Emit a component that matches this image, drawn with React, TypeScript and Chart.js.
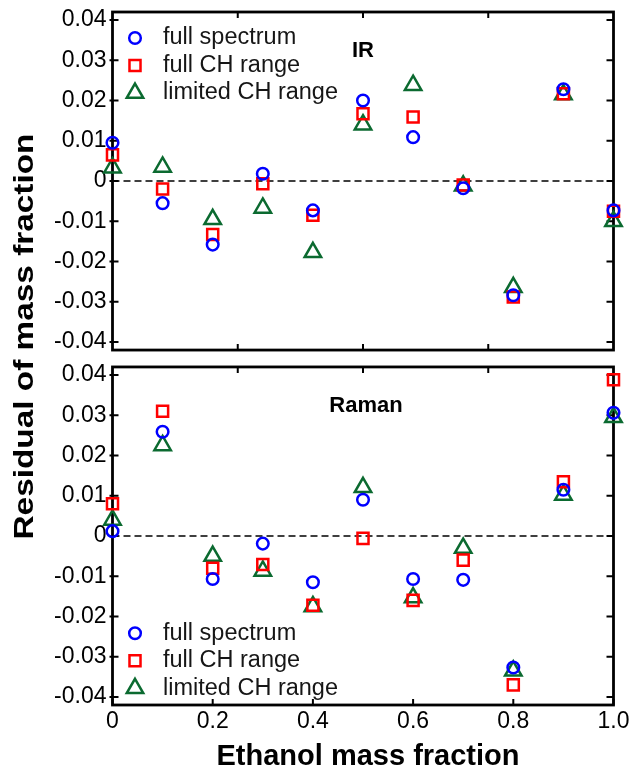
import React, { useEffect, useRef } from 'react';
import { Chart, registerables } from 'chart.js';
import { drawPoint } from 'chart.js/helpers';

Chart.register(...registerables);

const FONT = '"Liberation Sans", Arial, Helvetica, sans-serif';

// ---------------- data ----------------
const massFractions = [0, 0.1, 0.2, 0.3, 0.4, 0.5, 0.6, 0.7, 0.8, 0.9, 1.0];
const seriesNames = ['full spectrum', 'full CH range', 'limited CH range'];
const panelNames = ['IR', 'Raman'];

const irFullSpectrum = [0.0095, -0.0055, -0.0158, 0.0018, -0.0073, 0.020, 0.0109, -0.0018, -0.0284, 0.0228, -0.0073];
const irFullCH = [0.0065, -0.002, -0.0133, -0.0007, -0.0085, 0.0167, 0.0159, -0.001, -0.0288, 0.0217, -0.0075];
const irLimitedCH = [0.0033, 0.0035, -0.0095, -0.0067, -0.0177, 0.014, 0.0238, -0.0012, -0.0264, 0.0215, -0.010];

const ramanFullSpectrum = [0.0012, 0.0259, -0.0107, -0.0019, -0.0115, 0.009, -0.0107, -0.0109, -0.0327, 0.0115, 0.0306];
const ramanFullCH = [0.008, 0.031, -0.008, -0.0071, -0.0172, -0.0006, -0.016, -0.006, -0.037, 0.0135, 0.0388];
const ramanLimitedCH = [0.004, 0.0225, -0.005, -0.0087, -0.0175, 0.0121, -0.0153, -0.003, -0.0335, 0.0102, 0.0295];

const yTickValues = [-0.04, -0.03, -0.02, -0.01, 0, 0.01, 0.02, 0.03, 0.04];
const xTickValues = [0, 0.2, 0.4, 0.6, 0.8, 1.0];
const xInnerTickValues = [0.25, 0.5, 0.75];
const yAxisTitle = 'Residual of mass fraction';
const xAxisTitle = 'Ethanol mass fraction';

// ---------------- styles ----------------
const seriesStyles = [
  { pointStyle: 'circle', color: '#0000ff', radius: 5.8 },
  { pointStyle: 'rect', color: '#ff0000', radius: 7.8 },
  { pointStyle: 'triangle', color: '#0b6a30', radius: 9.5 },
];
const MARKER_LW = 2.5;

const panelAxisIds = ['yIR', 'yRaman'];
const panelSeries = [
  [irFullSpectrum, irFullCH, irLimitedCH],
  [ramanFullSpectrum, ramanFullCH, ramanLimitedCH],
];

function fmtY(v: number) {
  return Math.abs(v) < 1e-9 ? '0' : Number(v).toFixed(2);
}
function fmtX(v: number) {
  return Math.abs(v) < 1e-9 ? '0' : Number(v).toFixed(1);
}

const framesPlugin = {
  id: 'framesPlugin',
  beforeDatasetsDraw(chart: any) {
    const ctx = chart.ctx;
    const xs = chart.scales.x;
    const L = xs.left;
    const R = xs.right;
    ctx.save();
    panelAxisIds.forEach((id, p) => {
      const ys = chart.scales[id];
      const T = ys.top;
      const B = ys.bottom;
      // dashed zero line
      const y0 = ys.getPixelForValue(0);
      ctx.save();
      ctx.strokeStyle = '#000';
      ctx.lineWidth = 1.4;
      ctx.setLineDash([7, 4]);
      ctx.beginPath();
      ctx.moveTo(L, y0);
      ctx.lineTo(R, y0);
      ctx.stroke();
      ctx.restore();

      // ticks
      ctx.strokeStyle = '#000';
      ctx.lineWidth = 2;
      ctx.beginPath();
      yTickValues.forEach((v) => {
        const py = ys.getPixelForValue(v);
        ctx.moveTo(L - 3, py);
        ctx.lineTo(L + 6, py);
        ctx.moveTo(R - 7, py);
        ctx.lineTo(R, py);
      });
      xInnerTickValues.forEach((v) => {
        const px = xs.getPixelForValue(v);
        ctx.moveTo(px, T);
        ctx.lineTo(px, T + 6);
      });
      const bottomTicks = p === panelAxisIds.length - 1 ? xTickValues : xInnerTickValues;
      bottomTicks.forEach((v) => {
        const px = xs.getPixelForValue(v);
        ctx.moveTo(px, B);
        ctx.lineTo(px, B - 6);
      });
      ctx.stroke();

      // frame
      ctx.lineWidth = 2.8;
      ctx.strokeRect(L, T, R - L, B - T);
    });
    ctx.restore();
  },
  afterDatasetsDraw(chart: any) {
    const ctx = chart.ctx;
    const xs = chart.scales.x;
    const L = xs.left;
    ctx.save();
    panelAxisIds.forEach((id, p) => {
      const ys = chart.scales[id];
      const T = ys.top;
      const B = ys.bottom;
      // legend
      const rows = p === 0 ? [T + 26, T + 53.5, T + 81] : [B - 71.7, B - 44.2, B - 16.7];
      seriesNames.forEach((name, s) => {
        const st = seriesStyles[s];
        ctx.save();
        ctx.strokeStyle = st.color;
        ctx.fillStyle = 'rgba(0,0,0,0)';
        ctx.lineWidth = MARKER_LW;
        drawPoint(ctx, { pointStyle: st.pointStyle, radius: st.radius, borderWidth: MARKER_LW, rotation: 0 }, L + 22.5, rows[s]);
        ctx.restore();
        ctx.fillStyle = '#161616';
        ctx.font = `23.5px ${FONT}`;
        ctx.textAlign = 'left';
        ctx.textBaseline = 'middle';
        ctx.fillText(name, L + 50.5, rows[s]);
      });
      // panel label
      ctx.fillStyle = '#000';
      ctx.font = `bold 22px ${FONT}`;
      ctx.textAlign = 'center';
      ctx.textBaseline = 'middle';
      const lx = xs.getPixelForValue(0.5) + (p === 0 ? 0 : 3);
      ctx.fillText(panelNames[p], lx, T + (p === 0 ? 38.5 : 39));
    });

    // y axis title (spans both panels)
    const top = chart.scales[panelAxisIds[0]].top;
    const bottom = chart.scales[panelAxisIds[1]].bottom;
    ctx.save();
    ctx.translate(25, (top + bottom) / 2 - 22);
    ctx.rotate(-Math.PI / 2);
    ctx.font = `bold 28px ${FONT}`;
    const w = ctx.measureText(yAxisTitle).width;
    ctx.scale(406 / w, 1);
    ctx.fillStyle = '#000';
    ctx.textAlign = 'center';
    ctx.textBaseline = 'middle';
    ctx.fillText(yAxisTitle, 0, 0);
    ctx.restore();

    // x axis title
    ctx.fillStyle = '#000';
    ctx.font = `bold 29px ${FONT}`;
    ctx.textAlign = 'center';
    ctx.textBaseline = 'middle';
    ctx.fillText(xAxisTitle, (xs.left + xs.right) / 2 + 5, 757);
    ctx.restore();
  },
};

function yScale(weight: number) {
  return {
    type: 'linear',
    position: 'left',
    stack: 'panels',
    stackWeight: 340,
    weight,
    min: -0.042,
    max: 0.042,
    grid: { display: false, drawTicks: false },
    border: { display: false },
    afterBuildTicks: (s: any) => {
      s.ticks = yTickValues.map((value) => ({ value }));
    },
    afterFit: (s: any) => {
      s.width = 112.5;
      s.paddingTop = 0;
      s.paddingBottom = 0;
    },
    ticks: {
      color: '#000',
      font: { size: 23, family: FONT },
      padding: 6,
      autoSkip: false,
      callback: (v: any) => fmtY(Number(v)),
    },
  };
}

export default function App() {
  const canvasRef = useRef<HTMLCanvasElement | null>(null);

  useEffect(() => {
    document.body.style.margin = '0';
    const canvas = canvasRef.current;
    if (!canvas) return;
    Chart.defaults.font.family = FONT;

    const datasets: any[] = [];
    panelSeries.forEach((series, p) => {
      series.forEach((vals, s) => {
        const st = seriesStyles[s];
        datasets.push({
          type: 'scatter',
          label: `${panelNames[p]} ${seriesNames[s]}`,
          data: massFractions.map((x, i) => ({ x, y: vals[i] })),
          xAxisID: 'x',
          yAxisID: panelAxisIds[p],
          pointStyle: st.pointStyle,
          pointRadius: st.radius,
          pointBorderWidth: MARKER_LW,
          pointBorderColor: st.color,
          pointBackgroundColor: 'rgba(0,0,0,0)',
          showLine: false,
          clip: false,
        });
      });
    });

    const chart = new Chart(canvas, {
      type: 'scatter',
      data: { datasets },
      options: {
        animation: false,
        responsive: true,
        maintainAspectRatio: false,
        events: [],
        layout: { padding: { top: 8.5, right: 15.5, left: 0, bottom: 0 } },
        plugins: { legend: { display: false }, tooltip: { enabled: false } },
        scales: {
          x: {
            type: 'linear',
            position: 'bottom',
            min: 0,
            max: 1,
            grid: { display: false, drawTicks: false },
            border: { display: false },
            afterBuildTicks: (s: any) => {
              s.ticks = xTickValues.map((value) => ({ value }));
            },
            afterFit: (s: any) => {
              s.height = 69;
              s.paddingLeft = 0;
              s.paddingRight = 0;
            },
            ticks: {
              color: '#000',
              font: { size: 23, family: FONT },
              padding: 3,
              maxRotation: 0,
              autoSkip: false,
              callback: (v: any) => fmtX(Number(v)),
            },
          },
          yRaman: yScale(1),
          yGap: {
            type: 'linear',
            position: 'left',
            stack: 'panels',
            stackWeight: 17,
            weight: 2,
            display: false,
          },
          yIR: yScale(3),
        } as any,
      },
      plugins: [framesPlugin],
    } as any);

    return () => chart.destroy();
  }, []);

  return (
    <div style={{ position: 'absolute', left: 0, top: 0, width: 629, height: 774 }}>
      <canvas ref={canvasRef} />
    </div>
  );
}
